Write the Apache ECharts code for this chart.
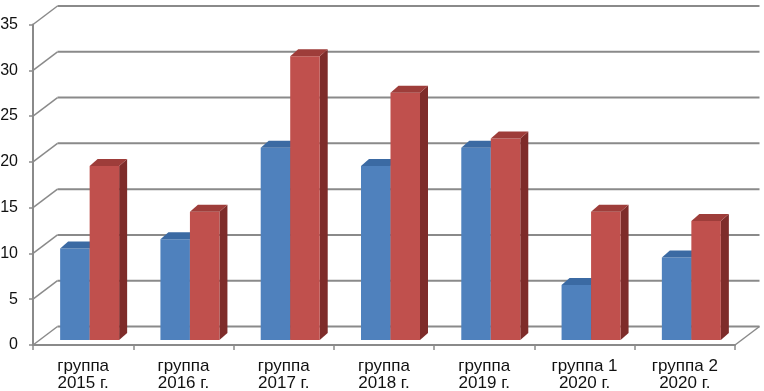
<!DOCTYPE html>
<html>
<head>
<meta charset="utf-8">
<script src="https://cdn.jsdelivr.net/npm/echarts@6/dist/echarts.min.js"></script>
<style>
  html, body { margin: 0; padding: 0; background: #fff; }
  #chart { width: 764px; height: 391px; }
</style>
</head>
<body>
<div id="chart"></div>
<script>
// категории и значения
var categories = ['группа\n2015 г.', 'группа\n2016 г.', 'группа\n2017 г.', 'группа\n2018 г.', 'группа\n2019 г.', 'группа 1\n2020 г.', 'группа 2\n2020 г.'];
var blueValues = [10, 11, 21, 19, 21, 6, 9];
var redValues = [19, 14, 31, 27, 22, 14, 13];
var yTicks = [0, 5, 10, 15, 20, 25, 30, 35];

var chart = echarts.init(document.getElementById('chart'));

var WALL_DX = 24.5, WALL_DY = -18.5; // смещение задней стенки
var BAR_DX = 8, BAR_DY = -7;         // глубина столбика
var lineColor = '#8a8a8a';

function wallItem (params, api) {
  var cs = params.coordSys;
  var v = api.value(0);
  var y = api.coord([0, v])[1];
  var L = cs.x, R = cs.x + cs.width;
  var children = [
    { type: 'line', shape: { x1: L, y1: y, x2: L + WALL_DX, y2: y + WALL_DY }, style: { stroke: lineColor, lineWidth: 1.5 } },
    { type: 'line', shape: { x1: L + WALL_DX, y1: y + WALL_DY, x2: R + WALL_DX, y2: y + WALL_DY }, style: { stroke: lineColor, lineWidth: 2 } }
  ];
  if (v === 0) {
    children.push({ type: 'line', shape: { x1: R, y1: y, x2: R + WALL_DX, y2: y + WALL_DY }, style: { stroke: lineColor, lineWidth: 1.5 } });
  }
  return { type: 'group', children: children };
}

function makeBar (x0Off, x1Off, front, top, side) {
  return function (params, api) {
    var i = api.value(0), v = api.value(1);
    var c = api.coord([i, v]);
    var base = api.coord([i, 0])[1] - 5;
    var yTop = c[1] - 5;
    var x0 = c[0] + x0Off, x1 = c[0] + x1Off;
    return {
      type: 'group',
      children: [
        { type: 'polygon', shape: { points: [[x1, yTop], [x1 + BAR_DX, yTop + BAR_DY], [x1 + BAR_DX, base + BAR_DY], [x1, base]] }, style: { fill: side } },
        { type: 'rect', shape: { x: x0, y: yTop, width: x1 - x0, height: base - yTop }, style: { fill: front } },
        { type: 'polygon', shape: { points: [[x0, yTop], [x1, yTop], [x1 + BAR_DX, yTop + BAR_DY], [x0 + BAR_DX, yTop + BAR_DY]] }, style: { fill: top } }
      ]
    };
  };
}

var option = {
  animation: false,
  grid: { left: 33, right: 29, top: 24.5, bottom: 46, containLabel: false, outerBoundsMode: 'none' },
  xAxis: {
    type: 'category',
    data: categories,
    axisLine: { lineStyle: { color: lineColor, width: 2 } },
    axisTick: { show: true, length: 5, lineStyle: { color: lineColor, width: 1.5 } },
    axisLabel: { color: '#111', fontSize: 17, lineHeight: 17, margin: 13, fontFamily: 'Liberation Sans, Arial' }
  },
  yAxis: {
    type: 'value',
    min: 0,
    max: 35,
    interval: 5,
    axisLine: { show: true, lineStyle: { color: lineColor, width: 2 } },
    axisTick: { show: true, length: 4, lineStyle: { color: lineColor, width: 1.5 } },
    axisLabel: { color: '#111', fontSize: 16, margin: 15, fontFamily: 'Liberation Sans, Arial' },
    splitLine: { show: false }
  },
  series: [
    {
      type: 'custom',
      z: 1,
      renderItem: wallItem,
      data: yTicks.map(function (t) { return [t]; }),
      encode: { y: 0 }
    },
    {
      type: 'custom',
      z: 2,
      renderItem: makeBar(-23, 6.5, '#4F81BD', '#3B6AA3', '#2C4D75'),
      data: blueValues.map(function (v, i) { return [i, v]; }),
      encode: { x: 0, y: 1 }
    },
    {
      type: 'custom',
      z: 3,
      renderItem: makeBar(6.5, 36, '#C0504D', '#9E3D3A', '#7E2C2A'),
      data: redValues.map(function (v, i) { return [i, v]; }),
      encode: { x: 0, y: 1 }
    }
  ]
};
chart.setOption(option);
</script>
</body>
</html>
